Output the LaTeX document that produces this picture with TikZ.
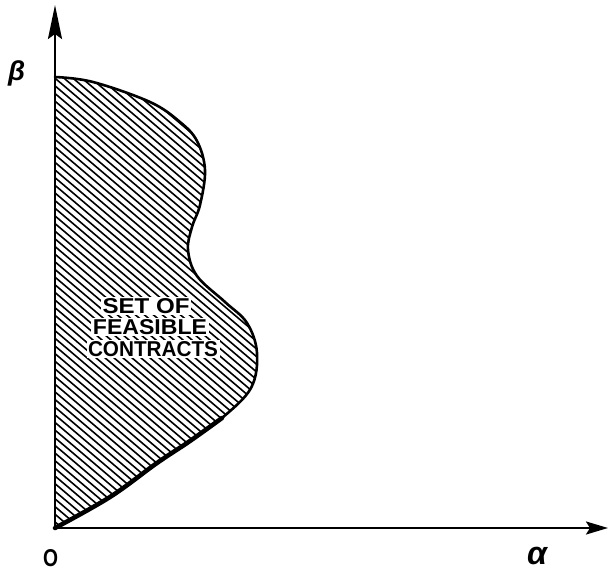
\documentclass[tikz,border=0pt]{standalone}
\usepackage{fontspec}
\usepackage{graphicx}
\setsansfont{Liberation Sans}
\newfontfamily\lblfont{Liberation Sans Bold}
\newfontfamily\greekfont{Liberation Sans Bold Italic}
\usetikzlibrary{arrows.meta}
\tikzset{
  axis/.style={line width=2.4pt},
  bound/.style={line width=2.6pt, line join=round, line cap=round},
  hatch/.style={line width=1.6pt},
  lbl/.style={fill=white, inner sep=1.5pt, font=\lblfont\fontsize{20}{22}\selectfont},
  greek/.style={font=\greekfont\fontsize{25}{27}\selectfont, inner sep=0pt},
  orglbl/.style={font=\lblfont\fontsize{22}{24}\selectfont, inner sep=0pt}
}
\begin{document}
\begin{tikzpicture}[x=1pt,y=-1pt]
\useasboundingbox (0,0) rectangle (610,572);
\def\pts{(55,77) (93,82) (150,102) (180,122) (197,141) (205,170) (200,205) (192,227) (188,250) (197,276) (225,302) (247,323) (257,353) (251,388) (222,418) (190,441) (157,463) (110,497) (55,528)}
% hatching
\begin{scope}
  \clip (55,77) -- plot[smooth, tension=0.6] coordinates {\pts} -- cycle;
  \foreach \c in {-640,-631,...,260} {
    \draw[hatch] (\c,0) -- ++(700,595);
  }
\end{scope}
% boundary
\draw[bound] plot[smooth, tension=0.6] coordinates {\pts};
\draw[line width=4.5pt, line cap=round] plot[smooth, tension=0.6] coordinates {(222,418) (190,441) (157,463) (110,497) (55,528)};
% axes
\coordinate (O) at (55,528);
\coordinate (ytop) at (55,5);
\coordinate (xend) at (608,528);
\draw[axis, -{Stealth[length=34pt, width=14pt, inset=5pt]}] (O) -- (ytop);
\draw[axis, -{Stealth[length=22pt, width=13pt, inset=4pt]}] (O) -- (xend);
% labels
\node[lbl] (l1) at (146,306) {\resizebox{87pt}{15pt}{SET OF}};
\node[lbl] (l2) at (150,327) {\resizebox{114pt}{15pt}{FEASIBLE}};
\node[lbl] (l3) at (153,349) {\resizebox{130pt}{15pt}{CONTRACTS}};
\node[greek] (beta) at (16.5,73.5) {\resizebox{17pt}{!}{β}};
\node[greek] (alpha) at (537,556) {\resizebox{20pt}{!}{α}};
\node[orglbl] (zero) at (50.5,558) {\resizebox{15pt}{17pt}{O}};
\end{tikzpicture}
\end{document}
